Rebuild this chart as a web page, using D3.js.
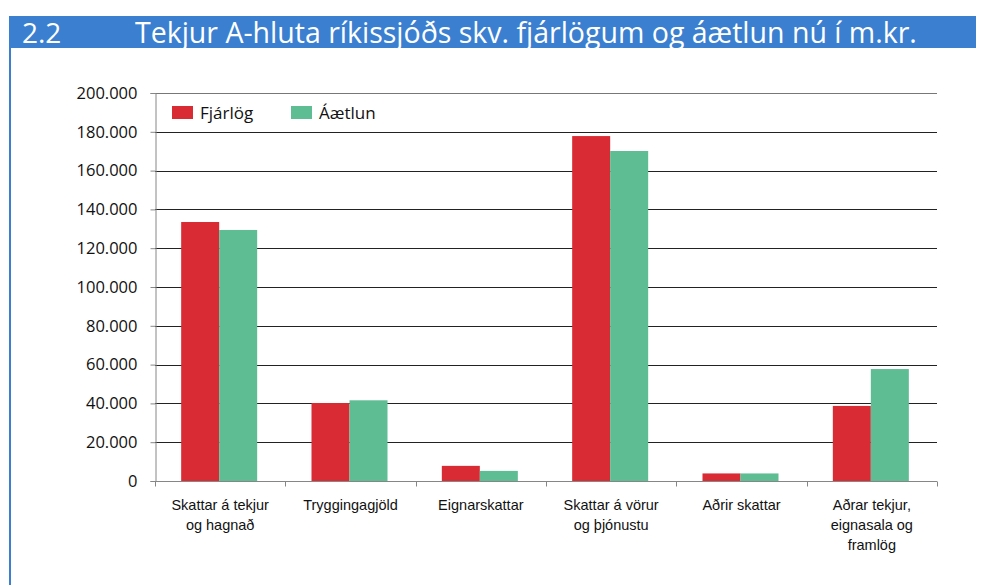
<!DOCTYPE html>
<html>
<head>
<meta charset="utf-8">
<script src="https://cdn.jsdelivr.net/npm/d3@7"></script>
<style>
  body { margin: 0; background: #fff; }
  svg { display: block; }
</style>
</head>
<body>
<svg id="chart" width="985" height="585"></svg>
<script>
// data (m.kr.)
var categories = [
  ["Skattar á tekjur", "og hagnað"],
  ["Tryggingagjöld"],
  ["Eignarskattar"],
  ["Skattar á vörur", "og þjónustu"],
  ["Aðrir skattar"],
  ["Aðrar tekjur,", "eignasala og", "framlög"]
];
var seriesNames = ["Fjárlög", "Áætlun"];
var fjarlog = [133500, 40200, 7800, 177800, 3900, 38700];
var aaetlun = [129400, 41600, 5200, 170100, 3900, 57700];
var yTicks = [0, 20000, 40000, 60000, 80000, 100000, 120000, 140000, 160000, 180000, 200000];
var colors = ["#d92b34", "#5fbd94"];

var svg = d3.select("#chart");

// header band and left rule
svg.append("rect")
  .attr("x", 9).attr("y", 16)
  .attr("width", 967).attr("height", 32)
  .attr("fill", "#3b7fd1");
svg.append("rect")
  .attr("x", 9).attr("y", 48)
  .attr("width", 2).attr("height", 537)
  .attr("fill", "#3b7fd1");
svg.append("text")
  .attr("x", 22).attr("y", 43)
  .attr("fill", "#fff")
  .style("font-family", "'Open Sans', Lato, sans-serif")
  .style("font-size", "28px")
  .text("2.2");
svg.append("text")
  .attr("x", 135).attr("y", 43)
  .attr("fill", "#fff")
  .style("font-family", "'Open Sans', Lato, sans-serif")
  .style("font-size", "28.5px")
  .text("Tekjur A-hluta ríkissjóðs skv. fjárlögum og áætlun nú í m.kr.");

var plotLeft = 155, plotRight = 937, plotTop = 93, plotBottom = 481;

var x = d3.scaleBand()
  .domain(d3.range(categories.length))
  .range([plotLeft, plotRight]);

var y = d3.scaleLinear()
  .domain([0, 200000])
  .range([plotBottom, plotTop]);

var fmt = function(d){
  return d === 0 ? "0" : d3.format(",")(d).replace(/,/g, ".");
};

// grid lines
svg.append("g")
  .selectAll("line")
  .data(yTicks.filter(function(d){ return d > 0; }))
  .enter().append("line")
  .attr("x1", plotLeft).attr("x2", plotRight)
  .attr("y1", function(d){ return Math.round(y(d)) + 0.5; })
  .attr("y2", function(d){ return Math.round(y(d)) + 0.5; })
  .attr("stroke", function(d){ return d === 200000 ? "#777" : "#222"; })
  .attr("stroke-width", 1);

// bars
var bw = 38;
var groups = svg.append("g")
  .selectAll("g")
  .data(categories.map(function(c, i){ return [fjarlog[i], aaetlun[i]]; }))
  .enter().append("g")
  .attr("transform", function(d, i){
    return "translate(" + (x(i) + x.bandwidth() / 2 - bw - 1) + ",0)";
  });
groups.selectAll("rect")
  .data(function(d){ return d; })
  .enter().append("rect")
  .attr("x", function(d, j){ return j * bw; })
  .attr("y", function(d){ return y(d); })
  .attr("width", bw)
  .attr("height", function(d){ return plotBottom - y(d); })
  .attr("fill", function(d, j){ return colors[j]; });

// y axis
var yAxis = svg.append("g")
  .attr("transform", "translate(" + (plotLeft + 0.5) + ",0)")
  .call(d3.axisLeft(y).tickValues(yTicks).tickFormat(fmt).tickSize(5).tickPadding(13));
yAxis.selectAll("path, line").attr("stroke", "#868686");
yAxis.selectAll("text")
  .attr("fill", "#111")
  .style("font-family", "'Open Sans', Lato, sans-serif")
  .style("font-size", "16.5px");

// x axis
var xAxis = svg.append("g")
  .attr("transform", "translate(0," + (plotBottom + 0.5) + ")");
xAxis.append("line")
  .attr("x1", plotLeft).attr("x2", plotRight)
  .attr("stroke", "#868686");
xAxis.selectAll(".tk")
  .data(d3.range(categories.length + 1))
  .enter().append("line")
  .attr("x1", function(i){ return Math.round(plotLeft + i * x.bandwidth()) + 0.5; })
  .attr("x2", function(i){ return Math.round(plotLeft + i * x.bandwidth()) + 0.5; })
  .attr("y1", 0).attr("y2", 5)
  .attr("stroke", "#868686");

var labels = svg.append("g")
  .selectAll("text")
  .data(categories)
  .enter().append("text")
  .attr("text-anchor", "middle")
  .attr("fill", "#111")
  .style("font-family", "'Liberation Sans', Arial, sans-serif")
  .style("font-size", "14.5px");
labels.each(function(lines, i){
  var t = d3.select(this);
  lines.forEach(function(l, k){
    t.append("tspan")
      .attr("x", x(i) + x.bandwidth() / 2)
      .attr("y", 510 + k * 20)
      .text(l);
  });
});

// legend
var legend = svg.append("g")
  .selectAll("g")
  .data(seriesNames)
  .enter().append("g")
  .attr("transform", function(d, i){ return "translate(" + (172 + i * 119) + ",106)"; });
legend.append("rect")
  .attr("width", 21).attr("height", 13)
  .attr("fill", function(d, i){ return colors[i]; });
legend.append("text")
  .attr("x", 28).attr("y", 13)
  .attr("fill", "#111")
  .style("font-family", "'Open Sans', Lato, sans-serif")
  .style("font-size", "17px")
  .text(function(d){ return d; });
</script>
</body>
</html>
